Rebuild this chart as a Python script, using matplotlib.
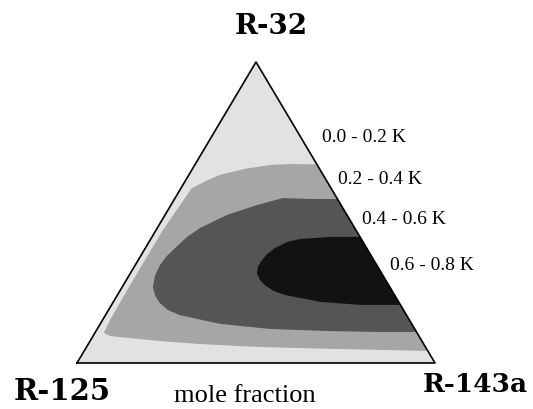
import numpy as np
import matplotlib
matplotlib.use("Agg")
import matplotlib.pyplot as plt

# 三成分のモル分率 (R-143a, R-32)、R-125 = 1 - 両者
# 温度グライド 0.2 K の等値線
c02_r143a = [0.34, 0.264, 0.210, 0.147, 0.116, 0.087, 0.066, 0.030, 0.019, 0.019,
             0.019, 0.021, 0.025, 0.047, 0.077, 0.195, 0.312, 0.484, 0.684, 0.852, 0.960]
c02_r32 = [0.66, 0.661, 0.658, 0.645, 0.635, 0.625, 0.611, 0.581, 0.442, 0.342,
           0.243, 0.143, 0.100, 0.090, 0.086, 0.073, 0.063, 0.053, 0.047, 0.043, 0.040]

# 0.4 K の等値線
c04_r143a = [0.455, 0.379, 0.301, 0.241, 0.173, 0.120, 0.098, 0.083, 0.073, 0.069,
             0.073, 0.086, 0.107, 0.132, 0.166, 0.208, 0.334, 0.483, 0.654, 0.794, 0.897]
c04_r32 = [0.545, 0.545, 0.548, 0.525, 0.492, 0.449, 0.419, 0.382, 0.355, 0.326,
           0.289, 0.252, 0.223, 0.199, 0.176, 0.159, 0.130, 0.113, 0.106, 0.103, 0.103]

# 0.6 K の等値線
c06_r143a = [0.581, 0.498, 0.417, 0.386, 0.362, 0.350, 0.346, 0.345, 0.353, 0.373,
             0.395, 0.430, 0.468, 0.578, 0.695, 0.807]
c06_r32 = [0.419, 0.419, 0.412, 0.402, 0.382, 0.362, 0.342, 0.322, 0.299, 0.276,
           0.259, 0.239, 0.226, 0.203, 0.193, 0.193]

labels = ["0.0 - 0.2 K", "0.2 - 0.4 K", "0.4 - 0.6 K", "0.6 - 0.8 K"]
colors = ["#e2e2e2", "#a6a6a6", "#555555", "#121212"]


def to_xy(r143a, r32):
    r143a = np.asarray(r143a)
    r32 = np.asarray(r32)
    return r143a + 0.5 * r32, r32 * np.sqrt(3) / 2


W, H = 533, 409
fig = plt.figure(figsize=(W / 100, H / 100), dpi=100)
ax = fig.add_axes([77 / W, (H - 363) / H, 358 / W, 301 / H])
ax.set_xlim(0, 1)
ax.set_ylim(0, np.sqrt(3) / 2)
ax.axis("off")

# 三角形の外枠と一番外側の領域
tx, ty = to_xy([0, 1, 0, 0], [0, 0, 1, 0])
ax.fill(tx, ty, color=colors[0], lw=0)

for (a, b), col in zip([(c02_r143a, c02_r32), (c04_r143a, c04_r32), (c06_r143a, c06_r32)],
                       colors[1:]):
    x, y = to_xy(a, b)
    ax.fill(x, y, color=col, lw=0)

ax.plot(tx, ty, color="black", lw=1.2, clip_on=False)

# ラベル
label_pos = [(322, 137), (338, 180), (362, 219), (390, 265)]
for lab, (px, py) in zip(labels, label_pos):
    fig.text(px / W, 1 - py / H, lab, ha="left", va="center",
             family="Liberation Serif", fontsize=14)

fig.text(271 / W, 1 - 26 / H, "R-32", ha="center", va="center",
         family="DejaVu Serif", weight="bold", fontsize=20)
fig.text(62 / W, 1 - 392 / H, "R-125", ha="center", va="center",
         family="DejaVu Serif", weight="bold", fontsize=21)
fig.text(475 / W, 1 - 385 / H, "R-143a", ha="center", va="center",
         family="DejaVu Serif", weight="bold", fontsize=19)
fig.text(245 / W, 1 - 396 / H, "mole fraction", ha="center", va="center",
         family="Liberation Serif", fontsize=19)

fig.savefig("out.png", dpi=100, facecolor="white")
